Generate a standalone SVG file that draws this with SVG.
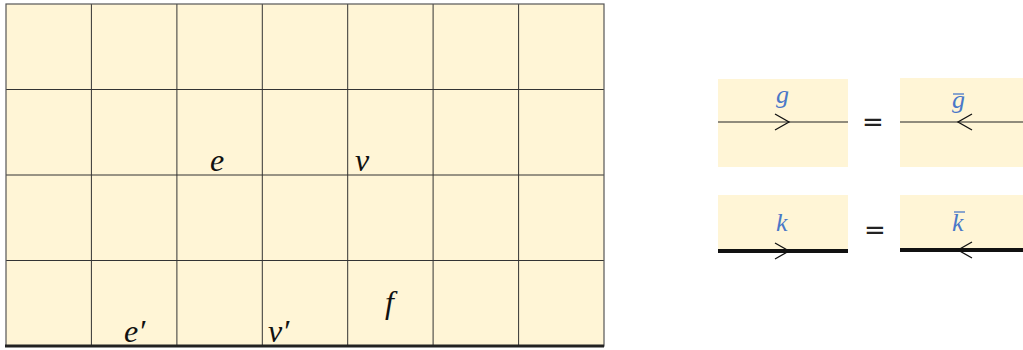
<svg xmlns="http://www.w3.org/2000/svg" width="1023" height="350" viewBox="0 0 1023 350">
<style>
.cell{fill:#fff5d6}
.grid{stroke:#333;stroke-width:1;fill:none}
.lbl{font-family:"Liberation Serif","DejaVu Serif",serif;font-style:italic;font-size:32px;fill:#111}
.blue{font-family:"Liberation Serif","DejaVu Serif",serif;font-style:italic;font-size:26px;fill:#4a78c8}
.eq{font-family:"DejaVu Sans","Liberation Sans",sans-serif;font-size:26px;fill:#222}
.thin{stroke:#222;stroke-width:1.2;fill:none}
.thick{stroke:#111;stroke-width:4;fill:none}
.chev{stroke:#111;stroke-width:1.3;fill:none}
</style>
<rect width="1023" height="350" fill="#fff"/>
<g id="grid">
<rect class="cell" x="6" y="4" width="598" height="342"/>
<path class="grid" d="M91.4 4V346M176.9 4V346M262.3 4V346M347.7 4V346M433.1 4V346M518.6 4V346M6 89.5H604M6 175H604M6 260.5H604"/>
<rect x="6" y="4" width="598" height="342" fill="none" stroke="#555" stroke-width="1.2"/>
<line x1="5" y1="346" x2="604" y2="346" stroke="#222" stroke-width="3"/>
</g>
<g id="labels">
<text class="lbl" x="210" y="171">e</text>
<text class="lbl" x="355" y="171">v</text>
<text class="lbl" x="124" y="342">e′</text>
<text class="lbl" x="268" y="342">v′</text>
<text class="lbl" x="385" y="313">f</text>
</g>
<g id="node-g">
<rect class="cell" x="718" y="79" width="130" height="88"/>
<line class="thin" x1="718" y1="122" x2="848" y2="122"/>
<path class="chev" d="M775 114L789 122L775 130"/>
<text class="blue" x="776" y="103">g</text>
</g>
<text class="eq" x="862" y="131">=</text>
<g id="node-gbar">
<rect class="cell" x="900" y="78" width="123" height="89"/>
<line class="thin" x1="900" y1="122" x2="1023" y2="122"/>
<path class="chev" d="M972 114L958 122L972 130"/>
<text class="blue" x="952" y="108">g</text>
<line x1="953" y1="94" x2="964" y2="94" stroke="#4a78c8" stroke-width="1.3"/>
</g>
<g id="node-k">
<rect class="cell" x="718" y="195" width="130" height="56"/>
<line class="thick" x1="718" y1="251" x2="848" y2="251"/>
<path class="chev" d="M775 243L789 251L775 259"/>
<text class="blue" x="776" y="231">k</text>
</g>
<text class="eq" x="864" y="239">=</text>
<g id="node-kbar">
<rect class="cell" x="900" y="195" width="123" height="55"/>
<line class="thick" x1="900" y1="250" x2="1023" y2="250"/>
<path class="chev" d="M972 242L958 250L972 258"/>
<text class="blue" x="952" y="231">k</text>
<line x1="954" y1="212" x2="965" y2="212" stroke="#4a78c8" stroke-width="1.3"/>
</g>
</svg>
